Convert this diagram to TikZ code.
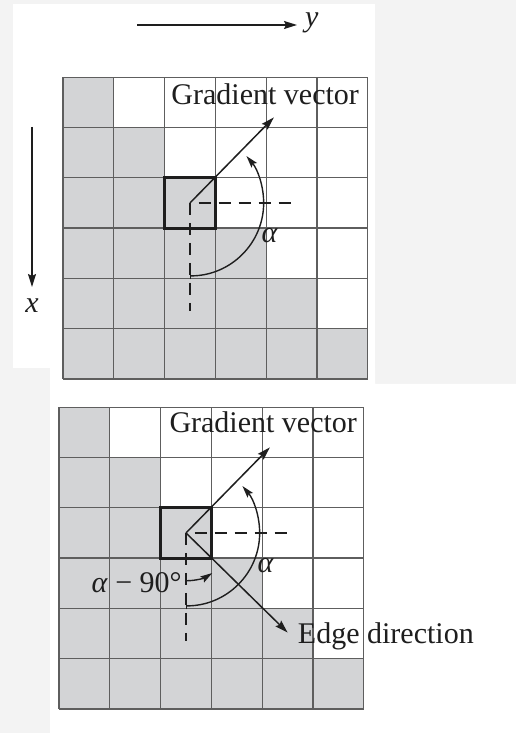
\documentclass[tikz,border=0pt]{standalone}
\usepackage{fontspec}
\setmainfont{Liberation Serif}
\usetikzlibrary{arrows.meta}
\definecolor{pagegray}{HTML}{F3F3F3}
\definecolor{cellfill}{HTML}{D3D4D6}
\definecolor{gridgray}{HTML}{5E5E5E}
\definecolor{inkblack}{HTML}{1E1E1E}
\tikzset{
  vecarrow/.style={-{Stealth[length=13pt, width=8pt, inset=2pt]}, line width=1.5pt, draw=inkblack},
  anglearrow/.style={{Bar[width=7pt]}-{Stealth[length=12pt, width=7pt, inset=2pt]}, line width=1.4pt, draw=inkblack},
  dashline/.style={dash pattern=on 12pt off 8pt, line width=1.4pt, draw=inkblack},
  gridline/.style={draw=gridgray, line width=1.3pt},
  boldbox/.style={draw=inkblack, line width=3pt},
  panel/.style={x=50.8pt, y=50.3pt},
  txt/.style={inner sep=0pt, text=inkblack, font=\fontsize{30}{36}\selectfont}
}

\begin{document}
\begin{tikzpicture}[x=1pt, y=1pt]
  \useasboundingbox (0,0) rectangle (516,733);
  \fill[pagegray] (0,0) rectangle (516,733);
  \fill[white] (13,365) rectangle (375,729);
  \fill[white] (50,0) -- (516,0) -- (516,349) -- (375,349) -- (375,365) -- (50,365) -- cycle;

  % axes
  \coordinate (ystart) at (137,708);
  \coordinate (yend) at (297,708);
  \node[txt, anchor=base west] (ylbl) at (305,706) {\textit{y}};
  \draw[vecarrow] (ystart) -- (yend);
  \coordinate (xstart) at (32,606);
  \coordinate (xend) at (32,446);
  \node[txt, anchor=base] (xlbl) at (32,420) {\textit{x}};
  \draw[vecarrow] (xstart) -- (xend);

  % upper panel: gradient only
  \begin{scope}[shift={(63,354)}, panel]
    \foreach \r in {0,...,5}
      \fill[cellfill] (0,{5-\r}) rectangle ({\r+1},{6-\r});
    \foreach \i in {0,...,6} {
      \draw[gridline] (\i,0) -- (\i,6);
      \draw[gridline] (0,\i) -- (6,\i);
    }
    \draw[boldbox] (2,3) rectangle (3,4);
    \coordinate (gc) at (2.5,3.5);
    \coordinate (gtip) at (4.15,5.2);
    \coordinate (hstart) at (2.67,3.5);
    \coordinate (hend) at (4.6,3.5);
    \coordinate (vend) at (2.5,1.35);
    \coordinate (astart) at (2.5,2.05);
    \draw[dashline] (hstart) -- (hend);
    \draw[dashline] (gc) -- (vend);
    \draw[vecarrow] (gc) -- (gtip);
    \draw[anglearrow] (astart) arc[start angle=-90, end angle=40, radius=1.45];
    \node[txt] (alpha) at (4.07,2.85) {\textit{α}};
    \node[txt, anchor=base] (gradlbl) at (3.98,5.45) {Gradient vector};
  \end{scope}

  % lower panel: gradient and edge direction
  \begin{scope}[shift={(59,24)}, panel]
    \foreach \r in {0,...,5}
      \fill[cellfill] (0,{5-\r}) rectangle ({\r+1},{6-\r});
    \foreach \i in {0,...,6} {
      \draw[gridline] (\i,0) -- (\i,6);
      \draw[gridline] (0,\i) -- (6,\i);
    }
    \draw[boldbox] (2,3) rectangle (3,4);
    \coordinate (bgc) at (2.5,3.5);
    \coordinate (bgtip) at (4.15,5.2);
    \coordinate (betip) at (4.5,1.52);
    \coordinate (bhstart) at (2.67,3.5);
    \coordinate (bhend) at (4.6,3.5);
    \coordinate (bvend) at (2.5,1.35);
    \coordinate (bastart) at (2.5,2.05);
    \coordinate (bsstart) at (2.5,2.55);
    \draw[dashline] (bhstart) -- (bhend);
    \draw[dashline] (bgc) -- (bvend);
    \draw[vecarrow] (bgc) -- (bgtip);
    \draw[vecarrow] (bgc) -- (betip);
    \draw[anglearrow] (bastart) arc[start angle=-90, end angle=40, radius=1.45];
    \draw[anglearrow] (bsstart) arc[start angle=-90, end angle=-57, radius=0.95];
    \node[txt] (balpha) at (4.07,2.85) {\textit{α}};
    \node[txt, anchor=base east] (bdiff) at (2.42,2.31) {\textit{α} − 90°};
    \node[txt, anchor=base] (bgradlbl) at (4.02,5.49) {Gradient vector};
    \node[txt, anchor=base west] (bedgelbl) at (4.7,1.31) {Edge direction};
  \end{scope}
\end{tikzpicture}
\end{document}
